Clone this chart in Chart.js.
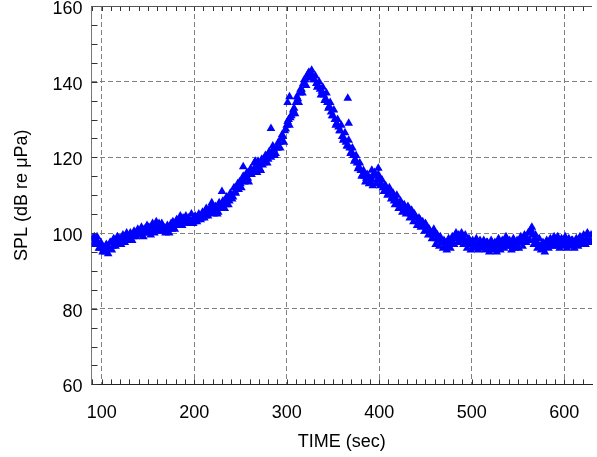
<!DOCTYPE html>
<html>
<head>
<meta charset="utf-8">
<script src="https://cdn.jsdelivr.net/npm/chart.js@4"></script>
<style>
  html, body { margin: 0; padding: 0; background: #fff; }
  #wrap { width: 597px; height: 457px; }
</style>
</head>
<body>
<div id="wrap"><canvas id="chartSpl" width="597" height="457"></canvas></div>
<script>
// ----- DATA -----
const tStartA = 90;  // first sample, even seconds
const tStartB = 91;  // first sample, odd seconds
const tStep = 2;     // sample spacing (sec)
const splA = [
  98.5, 99, 97, 97.5, 96, 97, 95.5, 95, 96.5, 96,                 // 90
  97.5, 96.5, 97.5, 98, 97, 98.5, 98, 99, 98.5, 99,               // 110
  98.5, 99.5, 99, 100, 99.5, 100.5, 100, 100, 101, 100.5,         // 130
  100, 100.5, 101.5, 101, 102, 101.5, 102.5, 101, 100.5, 101,     // 150
  100.5, 101, 101.5, 101, 102, 102.5, 102, 103.5, 103, 104,       // 170
  103.5, 103, 104, 103, 103.5, 103, 104, 103.5, 104.5, 104,       // 190
  105, 104.5, 106, 105.5, 107, 106, 105.5, 106.5, 105.5, 107,     // 210
  107.5, 108, 107.5, 109, 108.5, 110, 109.5, 111, 112, 111.5,     // 230
  113, 114, 113.5, 115, 114.5, 116, 115.5, 116.5, 117.5, 116,     // 250
  118, 116.5, 118, 119, 120, 119.5, 121, 121.5, 122, 121,         // 270
  122.5, 124, 125, 125.5, 127, 128.5, 130, 130.5, 131.5, 133,     // 290
  134.5, 135.5, 137, 138, 139.5, 140.5, 141.5, 142.5, 142, 141.5, // 310
  140.5, 139.5, 139, 138, 137.5, 136.5, 135.5, 134.5, 133.5, 132, // 330
  131, 130, 129, 128, 127, 125.5, 125, 124, 123, 122.5,           // 350
  121.5, 120.5, 119.5, 118.5, 117.5, 116.5, 115.5, 115, 114.5, 115, // 370
  113.5, 114, 115.5, 115, 114, 114.5, 113, 112, 112.5, 111,       // 390
  110.5, 111, 109.5, 108.5, 109, 108, 107.5, 106.5, 107, 106,     // 410
  105.5, 106.5, 105, 104.5, 105, 104, 103, 103.5, 102.5, 102,     // 430
  102.5, 101.5, 101, 100, 99.5, 100, 98.5, 98, 99, 97.5,          // 450
  98, 96.5, 97, 97.5, 98, 98.5, 99, 98.5, 99.5, 99,               // 470
  98, 98.5, 97.5, 98, 97, 97.5, 97, 96.5, 97, 97.5,               // 490
  97, 96.5, 97, 97.5, 96.5, 96, 97, 96.5, 96, 97.5,               // 510
  97, 96.5, 97, 98, 97.5, 96.5, 97, 97.5, 96.5, 97,               // 530
  97.5, 98, 97.5, 98.5, 99, 98.5, 100, 100.5, 99.5, 98.5,         // 550
  97.5, 97, 96.5, 96, 96.5, 97, 96.5, 97.5, 98, 97,               // 570
  98.5, 98, 97.5, 97, 98, 97.5, 98, 97, 97.5, 98,                 // 590
  97, 97.5, 98, 97.5, 98.5, 98, 97.5, 98.5, 99.5, 98,             // 610
  97.5                                                            // 630
];
const splB = [
  97, 98, 99, 96, 97.5, 95, 96, 97, 94.5, 97.5,                   // 91
  95.5, 98.5, 96.5, 99, 98.5, 97, 99.5, 97.5, 100, 98,            // 111
  100, 98, 100.5, 99, 101, 99.5, 101.5, 99, 100, 102,             // 131
  101.5, 99.5, 102.5, 100, 103, 100.5, 101, 102.5, 101.5, 100,    // 151
  102, 100, 102.5, 103, 101, 103.5, 102.5, 104.5, 102, 103,       // 171
  104.5, 102.5, 103, 105, 102.5, 104.5, 103, 105, 103.5, 105.5,   // 191
  104, 106.5, 104.5, 106, 108, 105, 107, 105, 108, 106.5,         // 211
  108.5, 106.5, 109.5, 107.5, 110.5, 109, 112, 110.5, 113, 113.5, // 231
  112, 115, 114.5, 116, 113.5, 117, 116, 118.5, 117, 119,         // 251
  117, 119.5, 118.5, 120.5, 118.5, 121.5, 120, 123, 120.5, 122.5, // 271
  124, 122.5, 126, 124, 127.5, 129.5, 128.5, 131, 132.5, 131.5,   // 291
  136, 134.5, 138, 137, 140.5, 139, 142, 141, 143, 140.5,         // 311
  141.5, 138.5, 140, 136.5, 138.5, 135, 137, 133, 134.5, 131,     // 331
  132.5, 128.5, 130, 127, 128.5, 124.5, 126.5, 123, 124.5, 121,   // 351
  122.5, 119, 120.5, 117, 118.5, 115, 116.5, 113.5, 115.5, 113,   // 371
  114.5, 112.5, 116, 113, 115.5, 112.5, 114, 111, 112.5, 110,     // 391
  112, 109, 110.5, 107.5, 110, 106.5, 108.5, 105.5, 107.5, 105,   // 411
  107, 104, 106, 103, 104.5, 102, 104, 101.5, 103, 100.5,         // 431
  101.5, 99.5, 100.5, 98.5, 101, 97, 99.5, 96.5, 98, 96,          // 451
  97.5, 95.5, 98.5, 96, 99, 97, 100, 97.5, 98, 100,               // 471
  97, 99.5, 96, 98.5, 95.5, 98, 96, 98.5, 95.5, 98,               // 491
  96, 98, 95.5, 97.5, 95, 98, 95.5, 97.5, 95, 98.5,               // 511
  95.5, 98, 96, 99, 96.5, 98, 95.5, 98.5, 96, 98,                 // 531
  96, 99, 96.5, 99.5, 97.5, 100, 98, 101.5, 97, 99.5,             // 551
  96, 98.5, 95.5, 97.5, 95, 98, 96, 98.5, 96.5, 99,               // 571
  96.5, 99, 96, 98.5, 96.5, 99, 96, 98.5, 96.5, 98,               // 591
  96, 98.5, 96.5, 99, 97, 99.5, 97, 100, 97.5, 99.5               // 611
];
// scattered points off the main band
const extraTime = [219, 230, 253, 266, 283, 301, 303, 366, 367, 392, 399, 564];
const extraSpl = [107.5, 111, 117.5, 119, 127.6, 134.5, 136, 135.6, 129, 116.6, 117.1, 101];

const xTicks = [100, 200, 300, 400, 500, 600];
const yTicks = [60, 80, 100, 120, 140, 160];

const pointsA = splA.map((v, i) => ({ x: tStartA + i * tStep, y: v }));
const pointsB = splB.map((v, i) => ({ x: tStartB + i * tStep, y: v }));
const extraPoints = extraTime.map((t, i) => ({ x: t, y: extraSpl[i] }));

// ----- FRAME + MINOR TICKS -----
const frame = {
  id: "frame",
  afterDraw(chart) {
    const { ctx, chartArea: a, scales: { x, y } } = chart;
    ctx.save();
    ctx.lineWidth = 1;
    ctx.strokeStyle = "#333";
    ctx.beginPath();
    for (let v = 90; v <= 630; v += 10) {
      const px = Math.round(x.getPixelForValue(v)) + 0.5;
      if (px < a.left || px > a.right) continue;
      ctx.moveTo(px, a.bottom); ctx.lineTo(px, a.bottom - 5);
      ctx.moveTo(px, a.top); ctx.lineTo(px, a.top + 5);
    }
    for (let v = 60; v <= 160; v += 5) {
      const py = Math.round(y.getPixelForValue(v)) + 0.5;
      ctx.moveTo(a.left, py); ctx.lineTo(a.left + 6, py);
    }
    ctx.stroke();
    // top border
    ctx.strokeStyle = "#555";
    ctx.beginPath();
    ctx.moveTo(a.left, Math.round(a.top) + 0.5);
    ctx.lineTo(a.right, Math.round(a.top) + 0.5);
    ctx.stroke();
    ctx.restore();
  }
};

const tickFont = { family: "'Liberation Sans', Arial, Helvetica, sans-serif", size: 18 };
const marker = { pointStyle: "triangle", radius: 5, backgroundColor: "#0000ff", borderColor: "#0000ff", borderWidth: 0 };

// ----- GRÁFICO -----
new Chart(document.getElementById("chartSpl"), {
  type: "scatter",
  data: {
    datasets: [
      { data: pointsA, ...marker },
      { data: pointsB, ...marker },
      { data: extraPoints, ...marker }
    ]
  },
  options: {
    responsive: false,
    animation: false,
    layout: { padding: { top: 6, left: 7, right: 0, bottom: 0 } },
    plugins: { legend: { display: false }, tooltip: { enabled: false } },
    scales: {
      x: {
        type: "linear",
        min: 89,
        max: 630,
        afterBuildTicks: s => { s.ticks = xTicks.map(v => ({ value: v })); },
        afterFit: s => { s.height = 72.6; s.paddingLeft = 0; s.paddingRight = 0; },
        ticks: { font: tickFont, color: "#000", padding: 18, maxRotation: 0 },
        grid: { color: "#808080", lineWidth: 1, drawTicks: false },
        border: { display: true, color: "#222", width: 1, dash: [5, 3] },
        title: { display: true, text: "TIME (sec)", font: tickFont, color: "#000", padding: { top: 4, bottom: 4 } }
      },
      y: {
        type: "linear",
        min: 60,
        max: 160,
        afterBuildTicks: s => { s.ticks = yTicks.map(v => ({ value: v })); },
        afterFit: s => { s.width = 84.5; s.paddingTop = 0; s.paddingBottom = 0; },
        ticks: { font: tickFont, color: "#000", padding: 9, labelOffset: 3 },
        grid: { color: "#808080", lineWidth: 1, drawTicks: false },
        border: { display: true, color: "#777", width: 1, dash: [5, 3] },
        title: { display: true, text: "SPL (dB re μPa)", font: tickFont, color: "#000", padding: { top: 4, bottom: 4 } }
      }
    }
  },
  plugins: [frame]
});
</script>
</body>
</html>
